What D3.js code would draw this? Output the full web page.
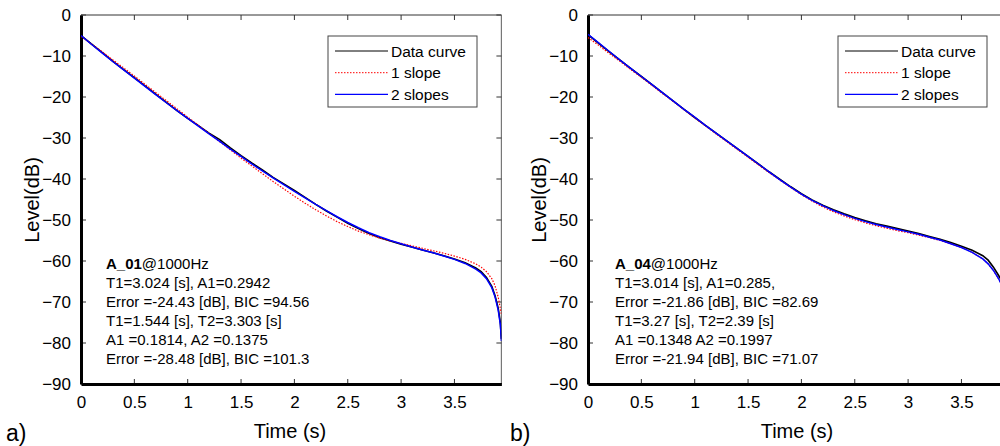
<!DOCTYPE html>
<html><head><meta charset="utf-8">
<script src="https://cdn.jsdelivr.net/npm/d3@7"></script>
<style>
html,body{margin:0;padding:0;background:#fff;overflow:hidden;}
svg{display:block;font-family:"Liberation Sans",Arial,sans-serif;}
</style></head>
<body>
<svg id="chart" width="1000" height="446"></svg>
<script>
const timeValues = [0,0.1,0.2,0.3,0.4,0.5,0.6,0.7,0.8,0.9,1.0,1.1,1.2,1.3,1.4,1.5,1.6,1.7,1.8,1.9,2.0,2.1,2.2,2.3,2.4,2.5,2.6,2.7,2.8,2.9,3.0,3.1,3.2,3.3,3.4,3.5,3.6,3.7,3.75,3.8,3.85,3.88,3.91,3.93,3.94];

const dataA = [-5.0,-7.1,-9.2,-11.3,-13.3,-15.3,-17.3,-19.3,-21.3,-23.3,-25.2,-27.0,-28.8,-30.4,-32.4,-34.3,-36.1,-37.8,-39.6,-41.2,-42.8,-44.5,-46.2,-47.8,-49.3,-50.8,-52.1,-53.3,-54.3,-55.1,-55.9,-56.6,-57.3,-58.0,-58.7,-59.5,-60.4,-61.7,-62.6,-64.0,-66.2,-68.4,-71.5,-75.0,-79.0];
const oneSlopeA = [-5.2,-7.1,-9.0,-11.0,-12.9,-14.9,-16.9,-18.9,-20.9,-22.9,-24.9,-26.9,-28.9,-30.9,-32.9,-34.9,-36.8,-38.7,-40.6,-42.4,-44.2,-45.9,-47.5,-49.0,-50.4,-51.6,-52.7,-53.6,-54.4,-55.1,-55.7,-56.3,-56.9,-57.5,-58.1,-58.8,-59.6,-60.7,-61.5,-62.6,-64.3,-66.0,-68.8,-71.5,-73.0];
const twoSlopesA = [-5.0,-7.2,-9.3,-11.4,-13.4,-15.4,-17.4,-19.4,-21.4,-23.3,-25.2,-27.1,-29.0,-30.8,-32.7,-34.5,-36.3,-38.0,-39.7,-41.4,-43.0,-44.6,-46.2,-47.7,-49.2,-50.6,-51.9,-53.1,-54.1,-55.0,-55.8,-56.6,-57.3,-58.0,-58.8,-59.6,-60.6,-62.0,-62.9,-64.3,-66.5,-68.7,-72.0,-75.5,-79.5];

const dataB = [-4.8,-6.9,-9.0,-11.0,-13.0,-15.0,-17.0,-19.0,-21.0,-23.0,-25.0,-26.9,-28.8,-30.7,-32.6,-34.5,-36.4,-38.3,-40.1,-41.9,-43.6,-45.1,-46.4,-47.5,-48.5,-49.4,-50.2,-50.9,-51.5,-52.1,-52.7,-53.3,-54.0,-54.7,-55.5,-56.4,-57.4,-58.7,-59.8,-61.5,-63.6,-65.0,-66.5,-68.0,-69.0];
const oneSlopeB = [-5.5,-7.4,-9.4,-11.3,-13.3,-15.2,-17.2,-19.2,-21.1,-23.1,-25.1,-27.0,-29.0,-30.9,-32.8,-34.7,-36.6,-38.5,-40.3,-42.1,-43.8,-45.4,-46.8,-48.0,-49.0,-49.9,-50.7,-51.4,-52.0,-52.6,-53.1,-53.7,-54.3,-55.0,-55.8,-56.7,-57.9,-59.5,-60.7,-62.3,-64.4,-66.0,-68.0,-70.0,-71.0];
const twoSlopesB = [-4.7,-6.8,-8.9,-11.0,-13.0,-15.0,-17.0,-19.0,-21.0,-23.0,-24.9,-26.9,-28.8,-30.7,-32.6,-34.5,-36.4,-38.3,-40.2,-42.0,-43.7,-45.2,-46.5,-47.7,-48.7,-49.6,-50.4,-51.1,-51.7,-52.3,-52.9,-53.5,-54.2,-54.9,-55.8,-56.7,-57.9,-59.5,-60.7,-62.3,-64.4,-66.0,-68.0,-70.0,-71.0];

const xTicks = [0,0.5,1,1.5,2,2.5,3,3.5];
const yTicks = [0,-10,-20,-30,-40,-50,-60,-70,-80,-90];
const legendLabels = ["Data curve","1 slope","2 slopes"];
const panelLetters = ["a)","b)"];
const annotA = [["A_01","@1000Hz"],"T1=3.024 [s], A1=0.2942","Error =-24.43 [dB], BIC =94.56","T1=1.544 [s], T2=3.303 [s]","A1 =0.1814, A2 =0.1375","Error =-28.48 [dB], BIC =101.3"];
const annotB = [["A_04","@1000Hz"],"T1=3.014 [s], A1=0.285,","Error =-21.86 [dB], BIC =82.69","T1=3.27 [s], T2=2.39 [s]","A1 =0.1348 A2 =0.1997","Error =-21.94 [dB], BIC =71.07"];

const svg = d3.select("#chart");
const panels = [
  {x0:81, data:dataA, one:oneSlopeA, two:twoSlopesA, annot:annotA, legX:328, letterX:6},
  {x0:588, data:dataB, one:oneSlopeB, two:twoSlopesB, annot:annotB, legX:838, letterX:510}
];
const xMax = 3.94, plotTop = 15, plotBottom = 384, pxPerSec = 106.7;

panels.forEach((p, i) => {
  const x = d3.scaleLinear().domain([0, xMax]).range([p.x0, p.x0 + xMax*pxPerSec]);
  const y = d3.scaleLinear().domain([-90, 0]).range([plotBottom, plotTop]);
  const g = svg.append("g");
  const clipId = "clip" + i;
  svg.append("clipPath").attr("id", clipId).append("rect")
    .attr("x", x(0)).attr("y", plotTop).attr("width", x(xMax)-x(0)).attr("height", plotBottom-plotTop);

  g.append("line").attr("x1", x(0)).attr("x2", x(xMax)).attr("y1", plotTop).attr("y2", plotTop).attr("stroke", "#333").attr("stroke-width", 1);
  g.append("line").attr("x1", x(xMax)).attr("x2", x(xMax)).attr("y1", plotTop).attr("y2", plotBottom).attr("stroke", "#777").attr("stroke-width", 1.2);

  const tg = g.append("g").attr("stroke", "#333").attr("stroke-width", 1);
  xTicks.forEach(t => {
    tg.append("line").attr("x1", x(t)).attr("x2", x(t)).attr("y1", plotBottom).attr("y2", plotBottom-5);
    tg.append("line").attr("x1", x(t)).attr("x2", x(t)).attr("y1", plotTop).attr("y2", plotTop+5);
  });
  yTicks.forEach(t => {
    tg.append("line").attr("x1", x(0)).attr("x2", x(0)+5).attr("y1", y(t)).attr("y2", y(t));
    tg.append("line").attr("x1", x(xMax)).attr("x2", x(xMax)-5).attr("y1", y(t)).attr("y2", y(t));
  });

  const xAxis = d3.axisBottom(x).tickValues(xTicks).tickSize(0).tickPadding(12).tickFormat(d3.format("~g"));
  const yAxis = d3.axisLeft(y).tickValues(yTicks).tickSize(0).tickPadding(10).tickFormat(d3.format("~g"));
  const xa = g.append("g").attr("transform", `translate(0,${plotBottom})`).call(xAxis);
  const ya = g.append("g").attr("transform", `translate(${x(0)},0)`).call(yAxis);
  [xa, ya].forEach(a => {
    a.select(".domain").attr("stroke", "#000").attr("stroke-width", 3);
    a.selectAll("text").attr("font-size", 17).attr("fill", "#000").attr("font-family", "Liberation Sans, Arial, sans-serif");
  });

  const line = d3.line().x((d, k) => x(timeValues[k])).y(d => y(d));
  const cg = g.append("g").attr("clip-path", `url(#${clipId})`).attr("fill", "none");
  cg.append("path").attr("d", line(p.data)).attr("stroke", "#000").attr("stroke-width", 1.6);
  cg.append("path").attr("d", line(p.one)).attr("stroke", "#ff0000").attr("stroke-width", 1.2).attr("stroke-dasharray", "1.5,1.5");
  cg.append("path").attr("d", line(p.two)).attr("stroke", "#0000ff").attr("stroke-width", 1.5);

  const lg = g.append("g");
  lg.append("rect").attr("x", p.legX).attr("y", 36).attr("width", 149).attr("height", 71)
    .attr("fill", "#fff").attr("stroke", "#444").attr("stroke-width", 1);
  const legStyles = [{c:"#000", d:null, w:1}, {c:"#ff0000", d:"1.5,1.5", w:1}, {c:"#0000ff", d:null, w:1.2}];
  legendLabels.forEach((lab, k) => {
    const yy = 51 + k*21.7;
    const ln = lg.append("line").attr("x1", p.legX+7).attr("x2", p.legX+60).attr("y1", yy).attr("y2", yy)
      .attr("stroke", legStyles[k].c).attr("stroke-width", legStyles[k].w);
    if (legStyles[k].d) ln.attr("stroke-dasharray", legStyles[k].d);
    lg.append("text").attr("x", p.legX+63).attr("y", yy+5.5).attr("font-size", 15.5).text(lab);
  });

  p.annot.forEach((ln, k) => {
    const t = g.append("text").attr("x", p.x0 + 25 + (i===1 ? 2 : 0)).attr("y", 268.5 + k*19).attr("font-size", 15);
    if (Array.isArray(ln)) {
      t.append("tspan").attr("font-weight", "bold").text(ln[0]);
      t.append("tspan").text(ln[1]);
    } else t.text(ln);
  });

  g.append("text").attr("x", p.x0 + 209).attr("y", 438).attr("text-anchor", "middle").attr("font-size", 20).text("Time (s)");
  g.append("text").attr("transform", `translate(${p.x0 - 42},200) rotate(-90)`).attr("text-anchor", "middle").attr("font-size", 20).text("Level(dB)");
  g.append("text").attr("x", p.letterX).attr("y", 441).attr("font-size", 23).text(panelLetters[i]);
});
</script>
</body></html>
